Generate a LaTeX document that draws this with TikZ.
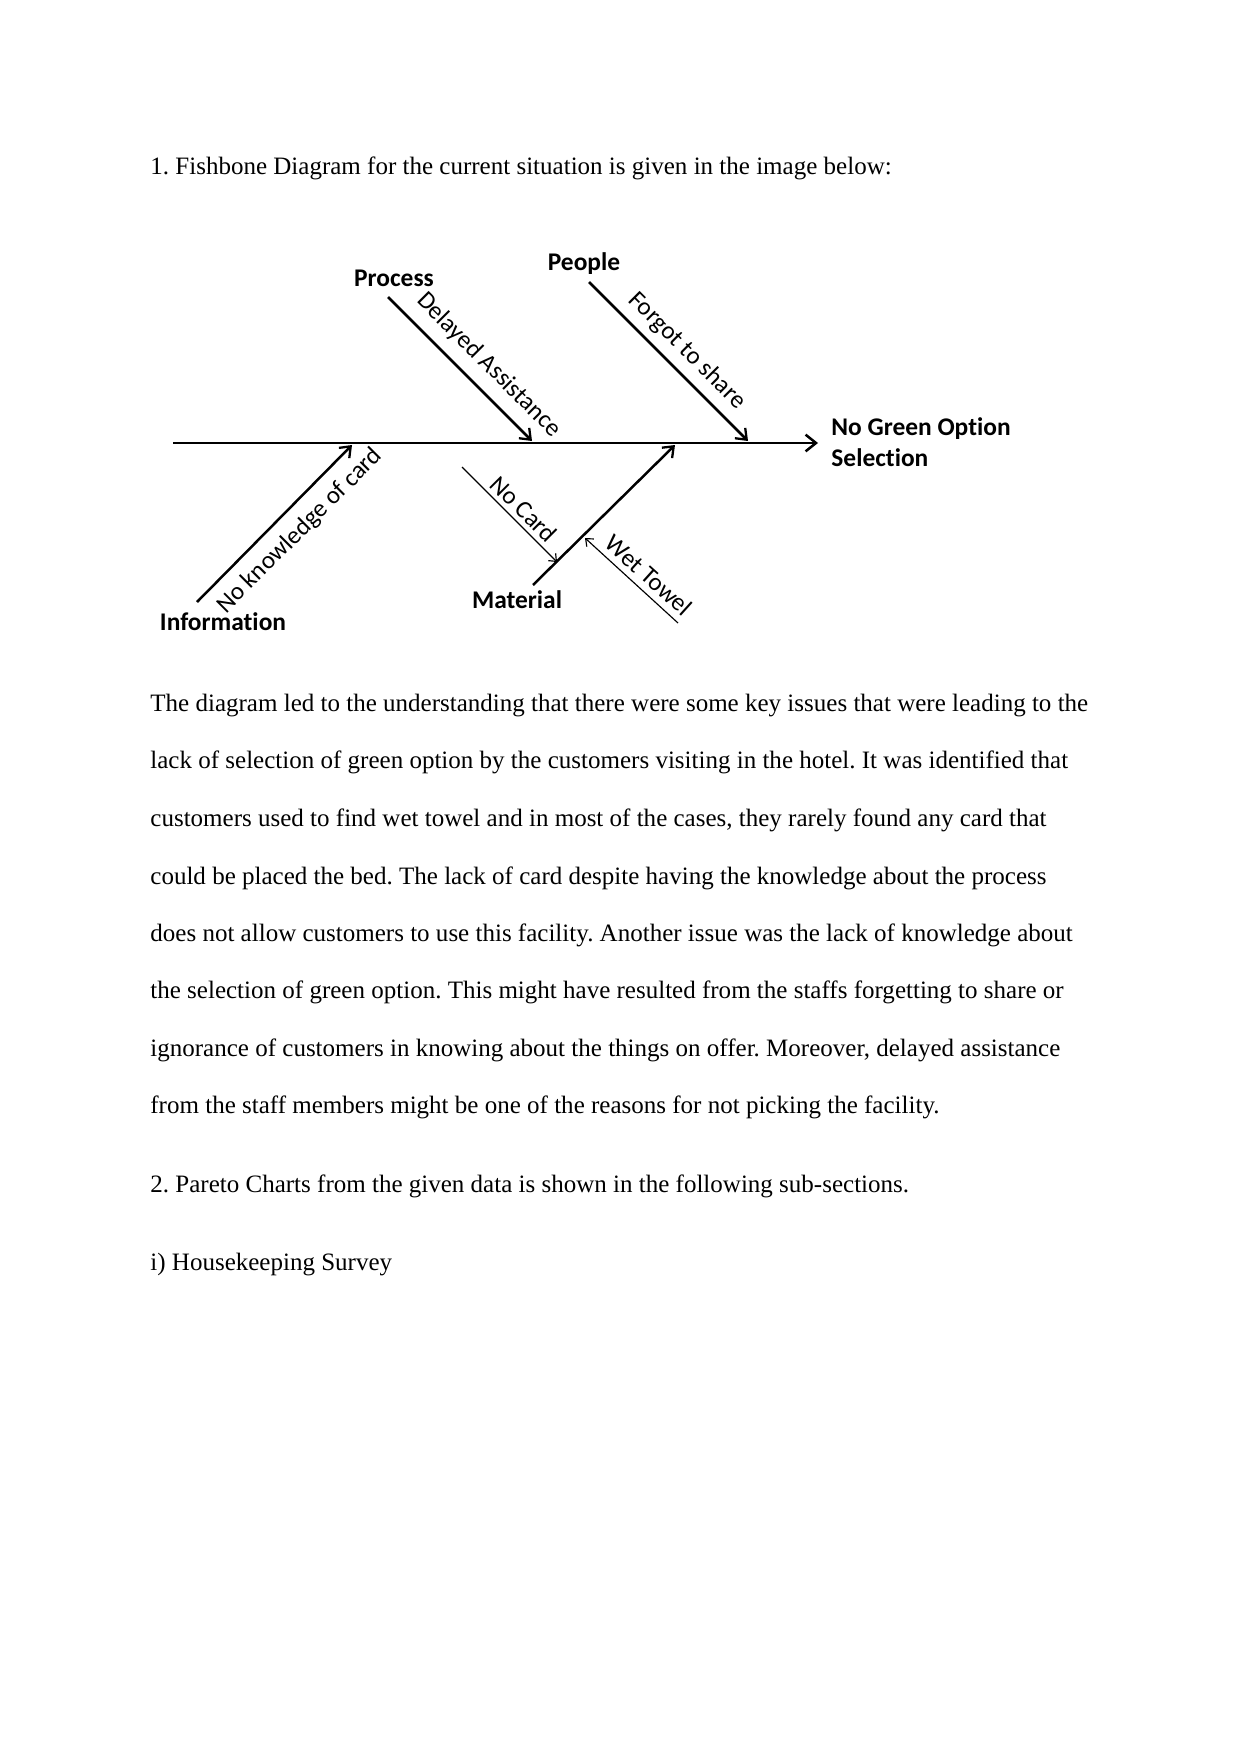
\documentclass[tikz,border=0pt]{standalone}
\usepackage{fontspec}
\setmainfont{Liberation Serif}
\newfontfamily\calfont[Ligatures=NoCommon]{Carlito}
\usetikzlibrary{arrows.meta}
\frenchspacing
\begin{document}
\begin{tikzpicture}[x=0.4797pt,y=-0.4797pt,
  spine/.style={line width=1.4pt,-{Straight Barb[length=5pt,width=8pt,line width=1.2pt]}},
  bone/.style={line width=1.2pt,-{Straight Barb[length=4.5pt,width=7pt,line width=1.1pt]}},
  thinbone/.style={line width=0.55pt,-{Straight Barb[length=3pt,width=5pt,line width=0.55pt]}},
  cat/.style={font=\calfont\bfseries\fontsize{12.2}{15}\selectfont,inner sep=0pt},
  cause/.style={font=\calfont\fontsize{12}{14}\selectfont,inner sep=0pt},
  body/.style={anchor=base west,inner sep=0pt,font=\fontsize{12}{14}\selectfont}]
\fill[white] (0,0) rectangle (1241,1754);
\useasboundingbox (0,0) rectangle (1241,1754);

% body text
\node[body] (t0) at (150,174) {1. Fishbone Diagram for the current situation is given in the image below:};
\node[body] (p1) at (150,711) {The diagram led to the understanding that there were some key issues that were leading to the};
\node[body] (p2) at (150,768) {lack of selection of green option by the customers visiting in the hotel. It was identified that};
\node[body] (p3) at (150,826) {customers used to find wet towel and in most of the cases, they rarely found any card that};
\node[body] (p4) at (150,884) {could be placed the bed. The lack of card despite having the knowledge about the process};
\node[body] (p5) at (150,941) {does not allow customers to use this facility. Another issue was the lack of knowledge about};
\node[body] (p6) at (150,998) {the selection of green option. This might have resulted from the staffs forgetting to share or};
\node[body] (p7) at (150,1056) {ignorance of customers in knowing about the things on offer. Moreover, delayed assistance};
\node[body] (p8) at (150,1113) {from the staff members might be one of the reasons for not picking the facility.};
\node[body] (s2) at (150,1192) {2. Pareto Charts from the given data is shown in the following sub-sections.};
\node[body] (s3) at (150,1270) {i) Housekeeping Survey};

% fishbone
\coordinate (S1) at (173,443);
\node[cat,anchor=west,align=left] (effect) at (831,442) {No Green Option\\Selection};
\coordinate (S2) at (818,443);
\draw[spine] (S1) -- (S2);

\node[cat] (process) at (394,278) {Process};
\node[cat] (people) at (584,264) {People};
\node[cat] (info) at (223,622) {Information};
\node[cat] (material) at (517,600) {Material};

\coordinate (P1) at (388,297); \coordinate (P2) at (532,441);
\coordinate (Q1) at (589,282); \coordinate (Q2) at (748,441);
\coordinate (I1) at (197,602); \coordinate (I2) at (352,445);
\coordinate (M1) at (533,585); \coordinate (M2) at (675,445);
\coordinate (N1) at (462,467); \coordinate (N2) at (557,562);
\coordinate (W1) at (678,623); \coordinate (W2) at (585,538);

\draw[bone] (P1) -- (P2);
\draw[bone] (Q1) -- (Q2);
\draw[bone] (I1) -- (I2);
\draw[bone] (M1) -- (M2);
\draw[thinbone] (N1) -- (N2);
\draw[thinbone] (W1) -- (W2);

\node[cause,rotate=-45] (delay) at (489,365) {Delayed Assistance};
\node[cause,rotate=-45] (forgot) at (687,351) {Forgot to share};
\node[cause,rotate=45] (noknow) at (300,531) {No knowledge of card};
\node[cause,rotate=-45] (nocard) at (524,509) {No Card};
\node[cause,rotate=-42] (wet) at (649,575) {Wet Towel};
\end{tikzpicture}
\end{document}
